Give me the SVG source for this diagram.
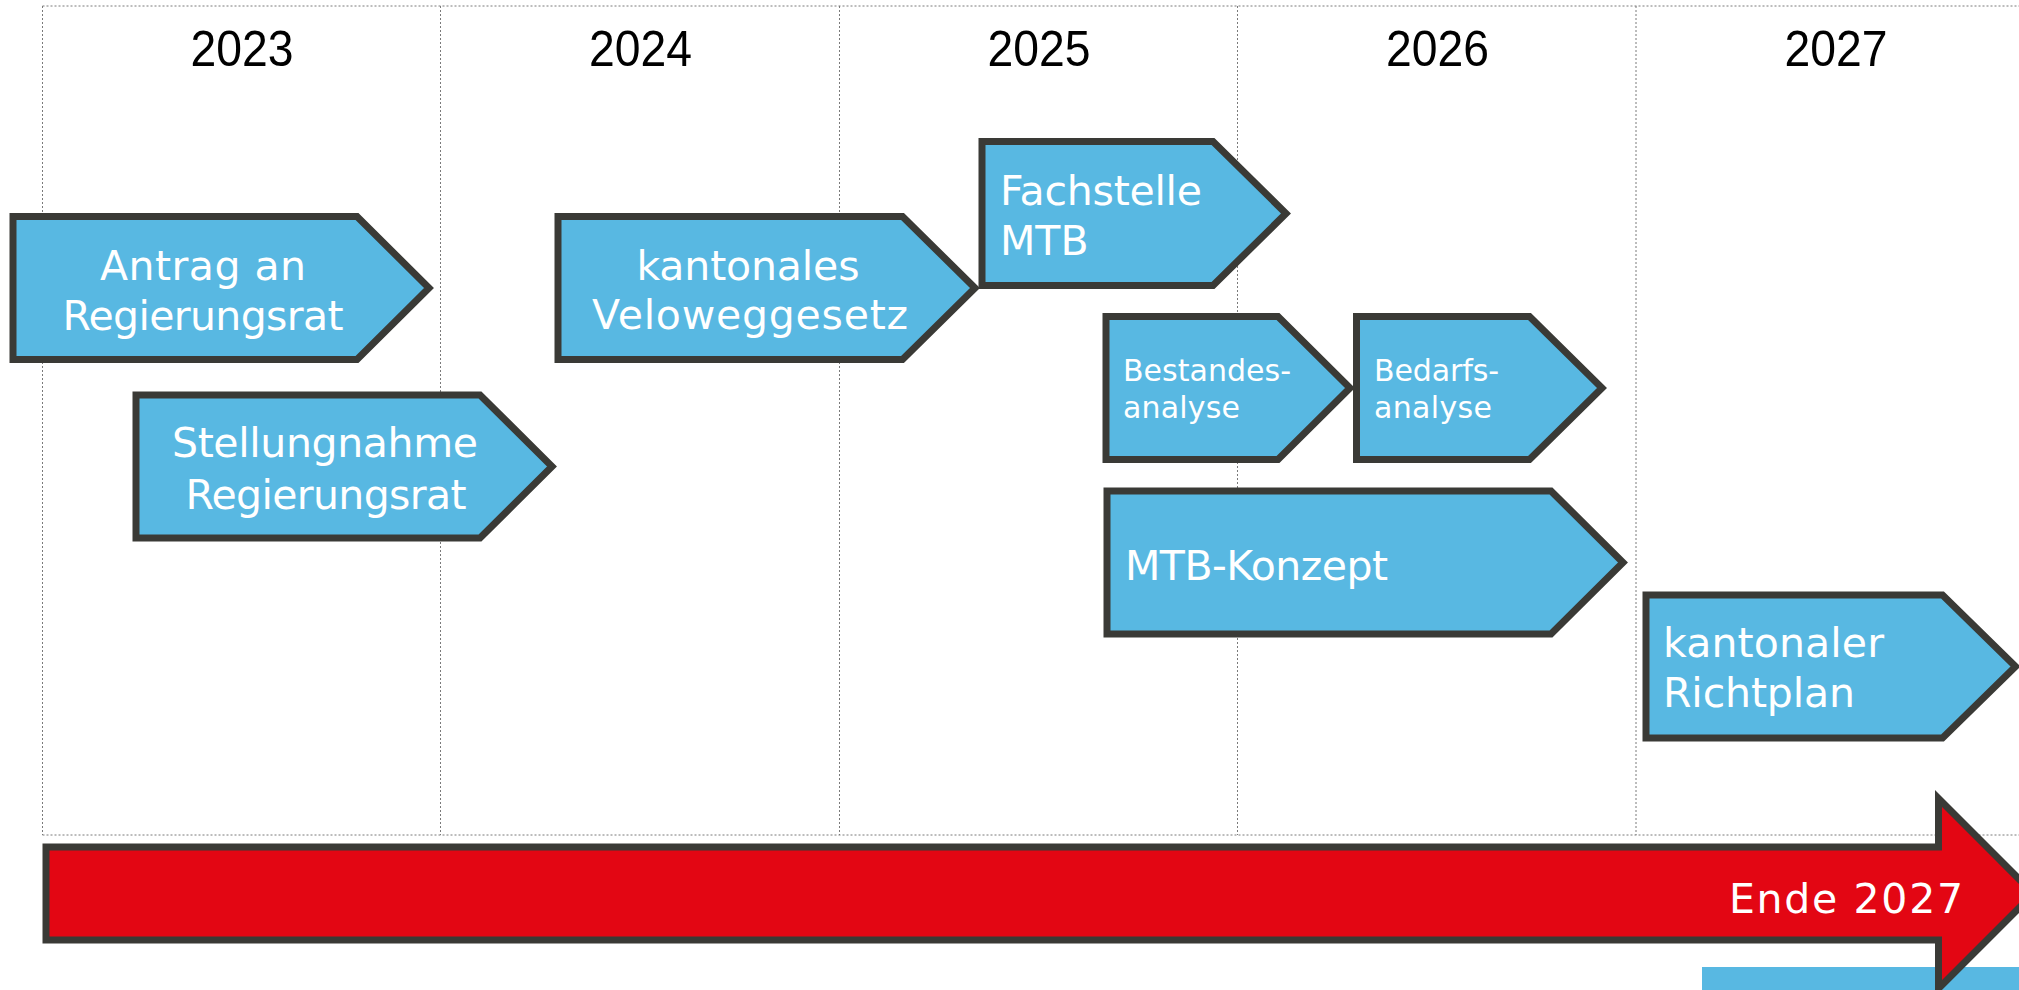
<svg xmlns="http://www.w3.org/2000/svg" width="2019" height="990" viewBox="0 0 2019 990">
<style>
.grid{stroke:#7a7a7a;stroke-width:1;stroke-dasharray:2 2;fill:none}
.year{font-family:"Liberation Sans",Arial,sans-serif;font-size:50px;fill:#000;text-anchor:middle}
.box{fill:#58B8E2;stroke:#3A3A36;stroke-width:7;stroke-linejoin:miter}
.t{font-family:"DejaVu Sans","Liberation Sans",sans-serif;font-size:41px;fill:#fff}
.s{font-size:30px}
.c{text-anchor:middle}
</style>
<rect width="2019" height="990" fill="#fff"/>
<g id="grid">
<line class="grid" x1="42.5" y1="6" x2="2019" y2="6"/>
<line class="grid" x1="42.5" y1="835" x2="2019" y2="835"/>
<line class="grid" x1="42.5" y1="6" x2="42.5" y2="835"/>
<line class="grid" x1="440.5" y1="6" x2="440.5" y2="835"/>
<line class="grid" x1="839.5" y1="6" x2="839.5" y2="835"/>
<line class="grid" x1="1237.5" y1="6" x2="1237.5" y2="835"/>
<line class="grid" x1="1636" y1="6" x2="1636" y2="835"/>
</g>
<g id="years">
<text class="year" x="242" y="66" textLength="103" lengthAdjust="spacingAndGlyphs">2023</text>
<text class="year" x="640.5" y="66" textLength="103" lengthAdjust="spacingAndGlyphs">2024</text>
<text class="year" x="1039" y="66" textLength="103" lengthAdjust="spacingAndGlyphs">2025</text>
<text class="year" x="1437.5" y="66" textLength="103" lengthAdjust="spacingAndGlyphs">2026</text>
<text class="year" x="1836" y="66" textLength="103" lengthAdjust="spacingAndGlyphs">2027</text>
</g>
<rect id="blue-strip" x="1702" y="967" width="317" height="23" fill="#58B8E2"/>
<g id="timeline">
<polygon points="46,847 1938.5,847 1938.5,798.5 2033.5,893.5 1938.5,988.5 1938.5,940 46,940" fill="#E30613" stroke="#3A3A36" stroke-width="7" stroke-linejoin="miter"/>
<text class="t" x="1963" y="913" font-size="44" text-anchor="end" textLength="234">Ende 2027</text>
</g>
<g id="antrag">
<polygon class="box" points="13,216.5 357,216.5 429,288 357,359.5 13,359.5"/>
<text class="t c" x="203" y="280" textLength="206">Antrag an</text>
<text class="t c" x="203" y="330" textLength="281">Regierungsrat</text>
</g>
<g id="stellungnahme">
<polygon class="box" points="136,395 480,395 552,466.5 480,538 136,538"/>
<text class="t c" x="325" y="457" textLength="306">Stellungnahme</text>
<text class="t c" x="326" y="509" textLength="281">Regierungsrat</text>
</g>
<g id="veloweggesetz">
<polygon class="box" points="558,216.5 902.5,216.5 975,288 902.5,359.5 558,359.5"/>
<text class="t c" x="748" y="280" textLength="223">kantonales</text>
<text class="t c" x="750" y="329" textLength="316">Veloweggesetz</text>
</g>
<g id="fachstelle">
<polygon class="box" points="982,141.5 1213,141.5 1286,213.5 1213,285.5 982,285.5"/>
<text class="t" x="1000" y="205" textLength="202">Fachstelle</text>
<text class="t" x="1000" y="255">MTB</text>
</g>
<g id="bestandesanalyse">
<polygon class="box" points="1106,316.5 1278,316.5 1350,388 1278,459.5 1106,459.5"/>
<text class="t s" x="1123" y="381" textLength="168">Bestandes-</text>
<text class="t s" x="1123" y="418" textLength="117">analyse</text>
</g>
<g id="bedarfsanalyse">
<polygon class="box" points="1356.5,316.5 1529.5,316.5 1602,388 1529.5,459.5 1356.5,459.5"/>
<text class="t s" x="1374" y="381" textLength="125">Bedarfs-</text>
<text class="t s" x="1374" y="418" textLength="118">analyse</text>
</g>
<g id="mtbkonzept">
<polygon class="box" points="1107,491 1551,491 1623,562.5 1551,634 1107,634"/>
<text class="t" x="1125" y="580" textLength="263">MTB-Konzept</text>
</g>
<g id="richtplan">
<polygon class="box" points="1646,595 1942.5,595 2015.5,666.5 1942.5,738 1646,738"/>
<text class="t" x="1663" y="657" textLength="221">kantonaler</text>
<text class="t" x="1663" y="707" textLength="192">Richtplan</text>
</g>
</svg>
